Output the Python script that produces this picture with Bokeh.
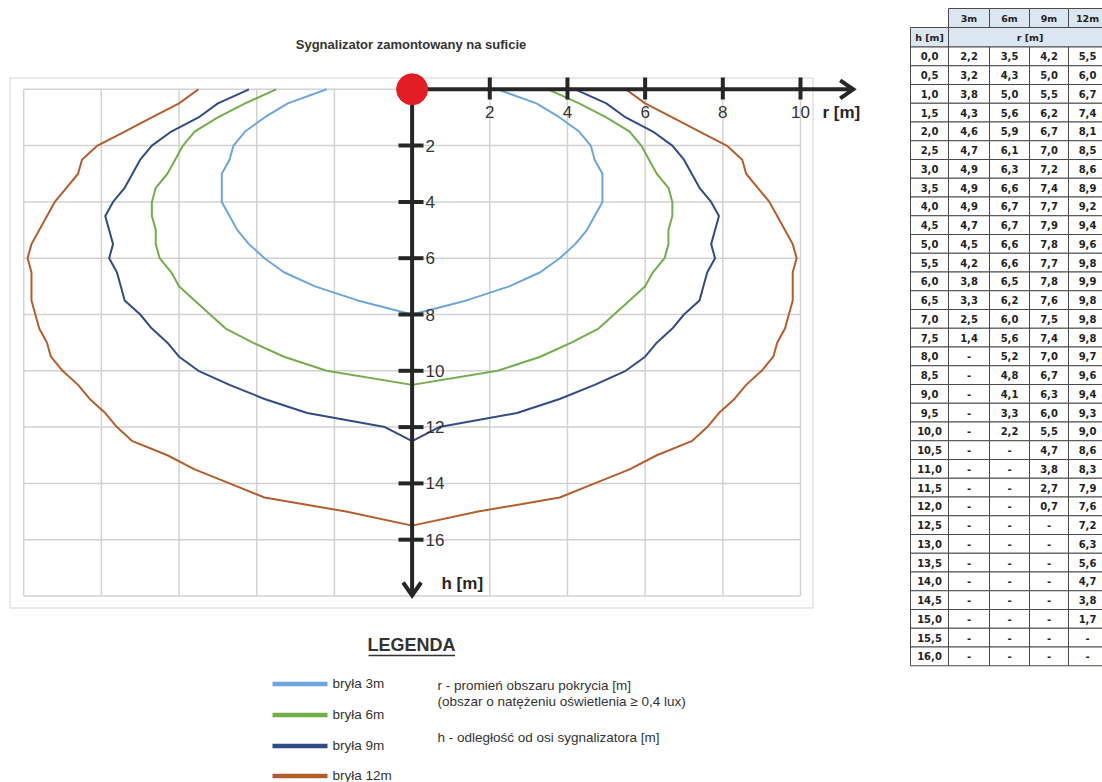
from bokeh.plotting import figure
from bokeh.models import Range1d, ColumnDataSource
from bokeh.core.properties import value
from bokeh.embed import file_html
from bokeh.resources import INLINE

# ---------------- data ----------------
title = "Sygnalizator zamontowany na suficie"
series_names = ["bryła 3m", "bryła 6m", "bryła 9m", "bryła 12m"]
table_headers = ["3m", "6m", "9m", "12m"]
h_table = [0.0, 0.5, 1.0, 1.5, 2.0, 2.5, 3.0, 3.5, 4.0, 4.5, 5.0, 5.5, 6.0, 6.5, 7.0, 7.5,
           8.0, 8.5, 9.0, 9.5, 10.0, 10.5, 11.0, 11.5, 12.0, 12.5, 13.0, 13.5, 14.0, 14.5,
           15.0, 15.5, 16.0]
r_3m = [2.2, 3.2, 3.8, 4.3, 4.6, 4.7, 4.9, 4.9, 4.9, 4.7, 4.5, 4.2, 3.8, 3.3, 2.5, 1.4]
r_6m = [3.5, 4.3, 5.0, 5.6, 5.9, 6.1, 6.3, 6.6, 6.7, 6.7, 6.6, 6.6, 6.5, 6.2, 6.0, 5.6,
        5.2, 4.8, 4.1, 3.3, 2.2]
r_9m = [4.2, 5.0, 5.5, 6.2, 6.7, 7.0, 7.2, 7.4, 7.7, 7.9, 7.8, 7.7, 7.8, 7.6, 7.5, 7.4,
        7.0, 6.7, 6.3, 6.0, 5.5, 4.7, 3.8, 2.7, 0.7]
r_12m = [5.5, 6.0, 6.7, 7.4, 8.1, 8.5, 8.6, 8.9, 9.2, 9.4, 9.6, 9.8, 9.9, 9.8, 9.8, 9.8,
         9.7, 9.6, 9.4, 9.3, 9.0, 8.6, 8.3, 7.9, 7.6, 7.2, 6.3, 5.6, 4.7, 3.8, 1.7]
apex_h = [8.0, 10.5, 12.5, 15.5]          # depth where each contour closes on the axis
x_ticks = [2, 4, 6, 8, 10]
h_ticks = [2, 4, 6, 8, 10, 12, 14, 16]
grid_x = [-10, -8, -6, -4, -2, 0, 2, 4, 6, 8, 10]
grid_h = [0, 2, 4, 6, 8, 10, 12, 14, 16, 18]
colors = ["#6ba7dd", "#72af4b", "#2f4c85", "#b45e2b"]
legend_notes = ["r - promień obszaru pokrycia [m]",
                "(obszar o natężeniu oświetlenia ≥ 0,4 lux)",
                "h - odległość od osi sygnalizatora [m]"]
series = [r_3m, r_6m, r_9m, r_12m]

# ---------------- page-pixel helpers ----------------
OX, OY = 411.6, 88.8
SX, SY = 38.84, 28.15
W, H = 1102, 782


def X(px):
    return (px - OX) / SX


def Y(py):
    return -(py - OY) / SY


p = figure(width=W, height=H, x_range=Range1d(X(0), X(W)), y_range=Range1d(Y(H), Y(0)),
           output_backend="svg", toolbar_location=None, min_border=0,
           x_axis_type=None, y_axis_type=None)
p.outline_line_color = None
p.background_fill_color = "white"
p.border_fill_color = "white"

FONT = value("Liberation Sans")
TFONT = value("DejaVu Sans")

# outer frame
p.quad(left=[X(9.5)], right=[X(812.5)], top=[Y(77.5)], bottom=[Y(607.5)],
       fill_color=None, line_color="#e2e2e2", line_width=1.5)

# grid
p.segment(x0=grid_x, x1=grid_x, y0=[0] * len(grid_x), y1=[-grid_h[-1]] * len(grid_x),
          line_color="#d2d2d2", line_width=1.5)
p.segment(x0=[grid_x[0]] * len(grid_h), x1=[grid_x[-1]] * len(grid_h),
          y0=[-g for g in grid_h], y1=[-g for g in grid_h],
          line_color="#d2d2d2", line_width=1.5)

# contours
for r, ah, c in zip(series, apex_h, colors):
    hs = h_table[:len(r)]
    xs = [-v for v in r] + [0] + r[::-1]
    ys = [-v for v in hs] + [-ah] + [-v for v in hs[::-1]]
    p.line(xs, ys, line_color=c, line_width=2, line_join="round")

AX = "#262626"
# horizontal axis with arrow
tip_x = X(852.7)
p.line([0, tip_x], [0, 0], line_color=AX, line_width=4)
p.line([tip_x - 13 / SX, tip_x, tip_x - 13 / SX], [9 / SY, 0, -9 / SY],
       line_color=AX, line_width=4, line_join="miter")
# vertical axis with arrow
tip_y = Y(595)
p.line([0, 0], [0, tip_y], line_color=AX, line_width=4)
p.line([-9 / SX, 0, 9 / SX], [tip_y + 13 / SY, tip_y, tip_y + 13 / SY],
       line_color=AX, line_width=4, line_join="miter")

# ticks
p.segment(x0=x_ticks, x1=x_ticks, y0=[Y(77)] * len(x_ticks), y1=[Y(99)] * len(x_ticks),
          line_color=AX, line_width=4)
p.segment(x0=[X(398)] * len(h_ticks), x1=[X(423)] * len(h_ticks),
          y0=[-h for h in h_ticks], y1=[-h for h in h_ticks], line_color=AX, line_width=4)

# tick labels
p.text(x=x_ticks, y=[Y(111.5)] * len(x_ticks), text=[str(t) for t in x_ticks],
       text_align="center", text_baseline="middle", text_font=FONT,
       text_font_size="17px", text_color="#333333")
p.text(x=[X(425)] * len(h_ticks), y=[-h for h in h_ticks], text=[str(t) for t in h_ticks],
       text_align="left", text_baseline="middle", text_font=FONT,
       text_font_size="17px", text_color="#333333")
p.text(x=[X(822), X(441)], y=[Y(111.5), Y(583)], text=["r [m]", "h [m]"],
       text_align="left", text_baseline="middle", text_font=FONT,
       text_font_size="17px", text_font_style="bold", text_color="#262626")

# red signal dot
p.scatter([0], [0], size=31, fill_color="#e31d24", line_color="#e31d24")

# title
p.text(x=[X(410.5)], y=[Y(44)], text=[title], text_align="center", text_baseline="middle",
       text_font=FONT, text_font_size="13px", text_font_style="bold", text_color="#333333")

# legend
p.text(x=[X(411)], y=[Y(644)], text=["LEGENDA"], text_align="center", text_baseline="middle",
       text_font=FONT, text_font_size="18px", text_font_style="bold", text_color="#333333")
p.line([X(368), X(454.5)], [Y(655), Y(655)], line_color="#333333", line_width=1.5)
leg_y = [683.5, 714.5, 745.5, 775.5]
for name, c, ly in zip(series_names, colors, leg_y):
    p.line([X(272), X(327)], [Y(ly), Y(ly)], line_color=c, line_width=4.5)
    p.text(x=[X(332)], y=[Y(ly - 1)], text=[name], text_align="left", text_baseline="middle",
           text_font=FONT, text_font_size="13.5px", text_color="#333333")
p.text(x=[X(437)] * 3, y=[Y(685), Y(700.5), Y(737)], text=legend_notes, text_align="left",
       text_baseline="middle", text_font=FONT, text_font_size="13.5px", text_color="#333333")

# ---------------- table ----------------
col_edges = [910, 948, 989, 1029, 1068, 1107]
row_h = 18.75
top1, top2, top3 = 8, 27, 46.5
HEAD = "#dce6f2"
LINE = "#4a4a4a"

# header row 1
p.quad(left=[X(e) for e in col_edges[1:-1]], right=[X(e) for e in col_edges[2:]],
       top=[Y(top1)] * 4, bottom=[Y(top2)] * 4, fill_color=HEAD, line_color=LINE, line_width=1)
p.text(x=[X((a + b) / 2 if i < 3 else 1087) for i, (a, b) in enumerate(zip(col_edges[1:-1], col_edges[2:]))],
       y=[Y((top1 + top2) / 2)] * 4, text=table_headers, text_align="center",
       text_baseline="middle", text_font=TFONT, text_font_size="9.5px",
       text_font_style="bold", text_color="#222222")
# header row 2
p.quad(left=[X(col_edges[0]), X(col_edges[1])], right=[X(col_edges[1]), X(col_edges[-1])],
       top=[Y(top2)] * 2, bottom=[Y(top3)] * 2, fill_color=HEAD, line_color=LINE, line_width=1)
p.text(x=[X((col_edges[0] + col_edges[1]) / 2), X(1029.5)], y=[Y((top2 + top3) / 2)] * 2,
       text=["h [m]", "r [m]"], text_align="center", text_baseline="middle", text_font=TFONT,
       text_font_size="9.5px", text_font_style="bold", text_color="#222222")


def fmt(v):
    return ("%.1f" % v).replace(".", ",")


cells = dict(left=[], right=[], top=[], bottom=[])
txt = dict(x=[], y=[], text=[])
for j, h in enumerate(h_table):
    t = top3 + j * row_h
    b = t + row_h
    vals = [fmt(h)] + [fmt(s[j]) if j < len(s) else "-" for s in series]
    for k in range(5):
        cells["left"].append(X(col_edges[k]))
        cells["right"].append(X(col_edges[k + 1]))
        cells["top"].append(Y(t))
        cells["bottom"].append(Y(b))
        cx = (col_edges[k] + col_edges[k + 1]) / 2 if k < 4 else 1087
        txt["x"].append(X(cx))
        txt["y"].append(Y((t + b) / 2))
        txt["text"].append(vals[k])
p.quad(source=ColumnDataSource(cells), left="left", right="right", top="top", bottom="bottom",
       fill_color="white", line_color=LINE, line_width=1)
p.text(source=ColumnDataSource(txt), x="x", y="y", text="text", text_align="center",
       text_baseline="middle", text_font=TFONT, text_font_size="10px", text_font_style="bold",
       text_color="#222222")

open("out.html", "w").write(file_html(p, INLINE))
